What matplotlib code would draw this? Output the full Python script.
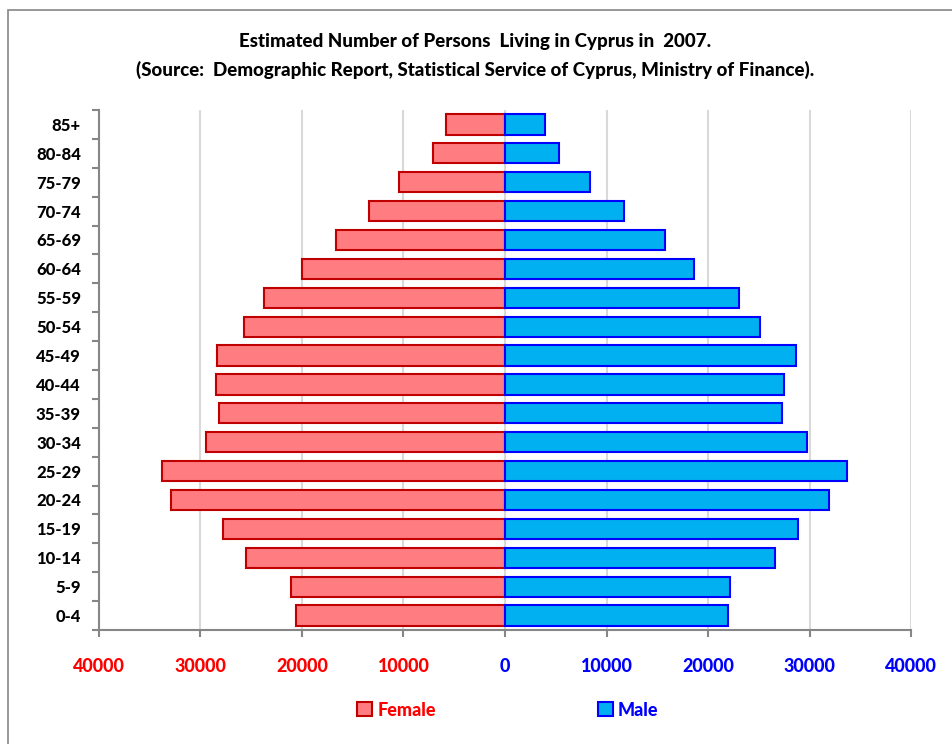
import numpy as np
import matplotlib.pyplot as plt
from matplotlib.patches import Rectangle

# age groups, youngest first (bottom of chart)
age_groups = ['0-4', '5-9', '10-14', '15-19', '20-24', '25-29', '30-34', '35-39', '40-44',
              '45-49', '50-54', '55-59', '60-64', '65-69', '70-74', '75-79', '80-84', '85+']
female = [20550, 21070, 25500, 27800, 32950, 33840, 29410, 28160, 28520,
          28330, 25670, 23730, 19990, 16650, 13430, 10420, 7070, 5820]
male = [21980, 22180, 26570, 28870, 31890, 33660, 29760, 27300, 27460,
        28710, 25170, 23030, 18600, 15780, 11710, 8370, 5350, 3940]
x_ticks = [-40000, -30000, -20000, -10000, 0, 10000, 20000, 30000, 40000]

plt.rcParams['font.family'] = ['Lato', 'DejaVu Sans']
WT = 'black'

W, H = 952, 744
fig = plt.figure(figsize=(W / 100, H / 100), dpi=100)
ax = fig.add_axes([99 / W, 1 - 630 / H, (911 - 99) / W, (630 - 110) / H])

y = np.arange(len(age_groups))
ax.barh(y, -np.array(female), height=0.7, color='#ff7c80', edgecolor='#c00000',
        linewidth=1.5, label='Female', zorder=3)
ax.barh(y, male, height=0.7, color='#00b0f0', edgecolor='#0000ff',
        linewidth=1.5, label='Male', zorder=3)

ax.set_xlim(-40000, 40000)
ax.set_ylim(-0.5, len(age_groups) - 0.5)
ax.set_xticks(x_ticks)
ax.set_xticklabels([str(abs(v)) for v in x_ticks], fontsize=13, fontweight=WT)
for lbl, v in zip(ax.get_xticklabels(), x_ticks):
    lbl.set_color('#ff0000' if v < 0 else '#0000ff')

# category labels centred, tick marks on the boundaries (Excel style)
ax.set_yticks(y)
ax.set_yticklabels(age_groups, fontsize=12, fontweight=WT)
ax.set_yticks(np.arange(-0.5, len(age_groups), 1), minor=True)
ax.tick_params(axis='y', which='major', length=0, pad=13)
ax.tick_params(axis='y', which='minor', length=5, color='#868686', width=1.5)
ax.tick_params(axis='x', length=5, color='#868686', width=1.5, pad=15)

ax.grid(axis='x', color='#d9d9d9', linewidth=1.5, zorder=0)
for s in ['top', 'right']:
    ax.spines[s].set_visible(False)
for s in ['left', 'bottom']:
    ax.spines[s].set_color('#868686')
    ax.spines[s].set_linewidth(1.5)

fig.text(475 / W, 1 - 42 / H, 'Estimated Number of Persons  Living in Cyprus in  2007.',
         ha='center', va='center', fontsize=13.5, fontweight=WT)
fig.text(475 / W, 1 - 70 / H,
         '(Source:  Demographic Report, Statistical Service of Cyprus, Ministry of Finance).',
         ha='center', va='center', fontsize=13.5, fontweight=WT)

leg = fig.legend(loc='center', bbox_to_anchor=(508 / W, 1 - 710 / H), ncol=2, frameon=False,
                 prop={'weight': WT, 'size': 13}, columnspacing=9,
                 handlelength=0.8, handleheight=0.8, handletextpad=0.3)
for txt, c in zip(leg.get_texts(), ['#ff0000', '#0000ff']):
    txt.set_color(c)

# outer chart border
fig.patches.append(Rectangle((8 / W, -0.1), 2, 1 - 10 / H + 0.1, transform=fig.transFigure,
                             fill=False, edgecolor='#868686', linewidth=1.2))

fig.savefig('out.png', dpi=100)
